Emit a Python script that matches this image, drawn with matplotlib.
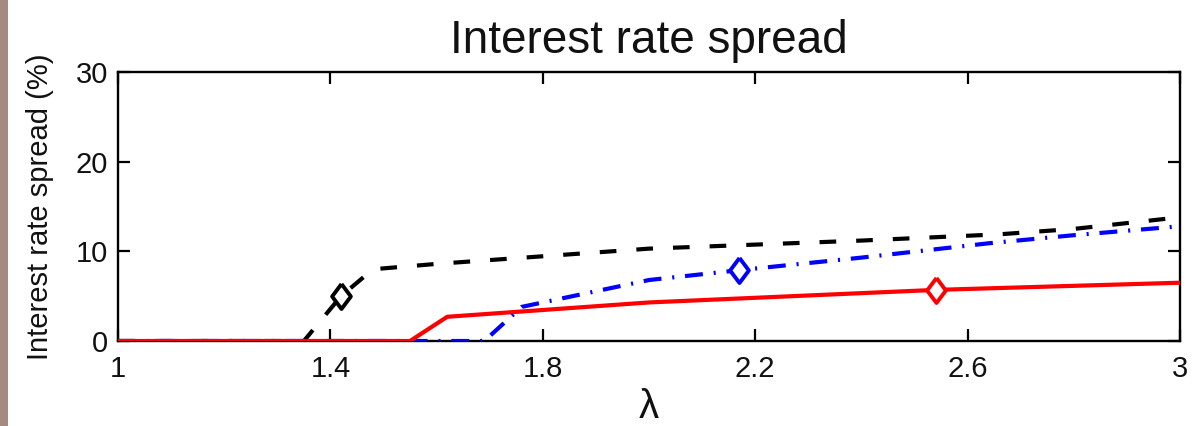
import matplotlib
matplotlib.use("Agg")
import matplotlib.pyplot as plt
from matplotlib.patches import Rectangle

# data
black_x = [1.0, 1.35, 1.42, 1.48, 1.6, 2.0, 2.4, 2.66, 2.8, 3.0]
black_y = [0.0, 0.0, 5.0, 8.0, 8.6, 10.3, 11.2, 11.9, 12.5, 13.8]
blue_x = [1.0, 1.69, 1.76, 2.0, 2.17, 2.4, 2.64, 2.8, 3.0]
blue_y = [0.0, 0.0, 3.8, 6.8, 7.9, 9.3, 10.9, 11.8, 12.8]
red_x = [1.0, 1.55, 1.62, 2.0, 2.54, 3.0]
red_y = [0.0, 0.0, 2.7, 4.3, 5.7, 6.5]
black_mark = 2
blue_mark = 4
red_mark = 4
xticks = [1, 1.4, 1.8, 2.2, 2.6, 3]
xtick_labels = ["1", "1.4", "1.8", "2.2", "2.6", "3"]
yticks = [0, 10, 20, 30]

plt.rcParams['font.family'] = ['Liberation Sans', 'DejaVu Sans']

fig = plt.figure(figsize=(11.92, 4.26), dpi=100)
fig.patches.append(Rectangle((0, 0), 8/1192, 1, transform=fig.transFigure,
                             facecolor='#a58a80', edgecolor='none'))
ax = fig.add_axes([118/1192, 85/426, 1062/1192, 269/426])

diamond = [(0, 1), (0.75, 0), (0, -1), (-0.75, 0), (0, 1)]
lw = 3.0
mk = dict(marker=diamond, ms=18, mfc='white', mew=2.8, ls='none', zorder=5)
ax.plot(black_x, black_y, color='black', lw=lw, dashes=(4.0, 4.8), zorder=3)
ax.plot([black_x[black_mark]], [black_y[black_mark]], mec='black', **mk)
ax.plot(blue_x, blue_y, color='#0000ff', lw=lw, dashes=(4.3, 2.6, 0.5, 2.6), zorder=3)
ax.plot([blue_x[blue_mark]], [blue_y[blue_mark]], mec='#0000ff', **mk)
ax.plot(red_x, red_y, color='#ff0000', lw=lw, zorder=4)
ax.plot([red_x[red_mark]], [red_y[red_mark]], mec='#ff0000', **mk)

ax.set_xlim(1, 3)
ax.set_ylim(0, 30)
ax.set_xticks(xticks)
ax.set_xticklabels(xtick_labels)
ax.set_yticks(yticks)
ax.tick_params(direction='in', length=8.5, width=1.6, labelsize=21, colors='black',
               labelcolor='#111111', top=True, right=True, labeltop=False,
               labelright=False, pad=10)
ax.tick_params(axis='y', pad=7)
for s in ax.spines.values():
    s.set_linewidth(1.7)

ax.set_title("Interest rate spread", fontsize=33, pad=14, color='#111111')
ax.set_xlabel("λ", fontsize=29, labelpad=4, color='#111111')
ax.set_ylabel("Interest rate spread (%)", fontsize=21, color='#111111')
ax.yaxis.set_label_coords(-0.060, 0.5)

fig.savefig("out.png", dpi=100)
